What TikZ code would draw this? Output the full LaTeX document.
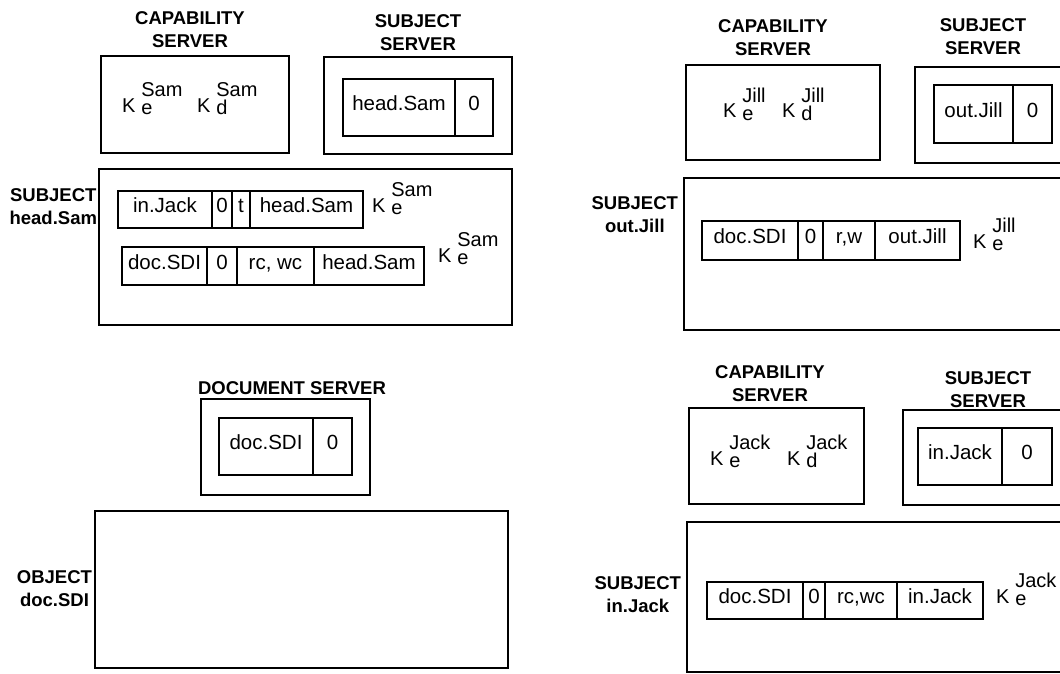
\documentclass[tikz,border=0pt]{standalone}
\usepackage{fontspec}
\setmainfont{Liberation Sans}
\usetikzlibrary{positioning}
\newcommand{\kpair}[2]{K\hspace{0.3em}\makebox[0pt][l]{\raisebox{0.8em}{#2}}\raisebox{-0.1em}{#1}}

\begin{document}
\begin{tikzpicture}[
  x=1pt, y=-1pt,
  every node/.style={inner sep=0pt, outer sep=0pt},
  frame/.style={draw, line width=2.8pt, anchor=north west},
  cell/.style={draw, line width=2.6pt, minimum height=37pt, text height=1.5ex, text depth=0.3ex, font=\fontsize{20.5}{24}\selectfont},
  tall/.style={minimum height=57pt},
  title/.style={align=center, font=\fontsize{18.5}{23}\selectfont\bfseries},
  side/.style={align=center, anchor=east, font=\fontsize{18.5}{23}\selectfont\bfseries},
  kkey/.style={anchor=base west, font=\fontsize{20}{24}\selectfont}
]
  \useasboundingbox (0,0) rectangle (1060,674);
  \clip (0,0) rectangle (1060,674);

  % --- Sam ---
  \node[frame, minimum width=188pt, minimum height=97pt] (capS) at (101,56) {};
  \node[frame, minimum width=188pt, minimum height=97pt] (subS) at (324,57) {};
  \node[frame, minimum width=413pt, minimum height=156pt] (subjS) at (99,169) {};
  \node[title] (tcapS) at (190,30) {CAPABILITY\\SERVER};
  \node[title] (tsubS) at (418,32.5) {SUBJECT\\SERVER};
  \node[side] (lsubjS) at (97,207) {SUBJECT\\head.Sam};

  \node[kkey] (kcS1) at (122,113) {\kpair{e}{Sam}};
  \node[kkey] (kcS2) at (197,113) {\kpair{d}{Sam}};

  \node[cell, tall, minimum width=112pt, anchor=north west] (ssA) at (343,79) {head.Sam};
  \node[cell, tall, minimum width=38pt, right=0pt of ssA] (ssB) {0};

  \node[cell, minimum width=94pt, anchor=north west] (hA) at (118,191) {in.Jack};
  \node[cell, minimum width=20pt, right=0pt of hA] (hB) {0};
  \node[cell, minimum width=18pt, right=0pt of hB] (hC) {t};
  \node[cell, minimum width=113pt, right=0pt of hC] (hD) {head.Sam};
  \node[kkey] (khD) at ([xshift=9pt]hD.base east) {\kpair{e}{Sam}};

  \node[cell, minimum width=85pt, minimum height=38pt, anchor=north west] (gA) at (122,247) {doc.SDI};
  \node[cell, minimum width=30pt, minimum height=38pt, right=0pt of gA] (gB) {0};
  \node[cell, minimum width=77pt, minimum height=38pt, right=0pt of gB] (gC) {rc, wc};
  \node[cell, minimum width=110pt, minimum height=38pt, right=0pt of gC] (gD) {head.Sam};
  \node[kkey] (kgD) at ([xshift=14pt,yshift=7pt]gD.base east) {\kpair{e}{Sam}};

  % --- document ---
  \node[frame, minimum width=169pt, minimum height=96pt] (docS) at (201,399) {};
  \node[frame, minimum width=413pt, minimum height=157pt] (obj) at (95,511) {};
  \node[title] (tdocS) at (292,388) {DOCUMENT SERVER};
  \node[side] (lobj) at (92,589) {OBJECT\\doc.SDI};
  \node[cell, tall, minimum width=94pt, anchor=north west] (dsA) at (219,418) {doc.SDI};
  \node[cell, tall, minimum width=39pt, right=0pt of dsA] (dsB) {0};

  % --- Jill ---
  \node[frame, minimum width=194pt, minimum height=95pt] (capJ) at (686,65) {};
  \node[frame, minimum width=155pt, minimum height=96pt] (subJ) at (915,67) {};
  \node[frame, minimum width=386pt, minimum height=152pt] (subjJ) at (684,178) {};
  \node[title] (tcapJ) at (773,37.5) {CAPABILITY\\SERVER};
  \node[title] (tsubJ) at (983,36.5) {SUBJECT\\SERVER};
  \node[side] (lsubjJ) at (678,215) {SUBJECT\\out.Jill};

  \node[kkey] (kcJ1) at (723,118) {\kpair{e}{Jill}};
  \node[kkey] (kcJ2) at (782,118) {\kpair{d}{Jill}};

  \node[cell, minimum width=79pt, minimum height=58pt, anchor=north west] (sjA) at (934,85) {out.Jill};
  \node[cell, minimum width=39pt, minimum height=58pt, right=0pt of sjA] (sjB) {0};

  \node[cell, minimum width=96pt, minimum height=39pt, anchor=north west] (jA) at (702,221) {doc.SDI};
  \node[cell, minimum width=25pt, minimum height=39pt, right=0pt of jA] (jB) {0};
  \node[cell, minimum width=52pt, minimum height=39pt, right=0pt of jB] (jC) {r,w};
  \node[cell, minimum width=85pt, minimum height=39pt, right=0pt of jC] (jD) {out.Jill};
  \node[kkey] (kjD) at ([xshift=13pt,yshift=-5pt]jD.base east) {\kpair{e}{Jill}};

  % --- Jack ---
  \node[frame, minimum width=175pt, minimum height=96pt] (capK) at (689,408) {};
  \node[frame, minimum width=167pt, minimum height=95pt] (subK) at (903,410) {};
  \node[frame, minimum width=383pt, minimum height=150pt] (subjK) at (687,522) {};
  \node[title] (tcapK) at (770,383.5) {CAPABILITY\\SERVER};
  \node[title] (tsubK) at (988,390) {SUBJECT\\SERVER};
  \node[side] (lsubjK) at (681,595) {SUBJECT\\in.Jack};

  \node[kkey] (kcK1) at (710,465) {\kpair{e}{Jack}};
  \node[kkey] (kcK2) at (787,465) {\kpair{d}{Jack}};

  \node[cell, tall, minimum width=84pt, anchor=north west] (skA) at (918,428) {in.Jack};
  \node[cell, tall, minimum width=50pt, right=0pt of skA] (skB) {0};

  \node[cell, minimum width=96pt, anchor=north west] (kA) at (707,582) {doc.SDI};
  \node[cell, minimum width=22pt, right=0pt of kA] (kB) {0};
  \node[cell, minimum width=72pt, right=0pt of kB] (kC) {rc,wc};
  \node[cell, minimum width=86pt, right=0pt of kC] (kD) {in.Jack};
  \node[kkey] (kkD) at ([xshift=13pt]kD.base east) {\kpair{e}{Jack}};
\end{tikzpicture}
\end{document}
